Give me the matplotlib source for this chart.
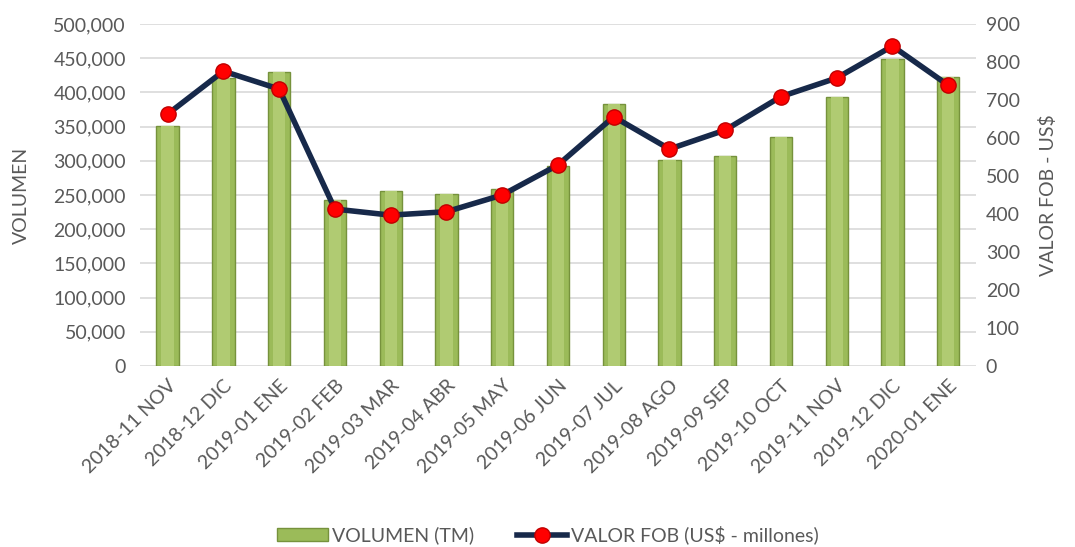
import matplotlib.pyplot as plt
import numpy as np
from matplotlib.ticker import FuncFormatter

meses = ["2018-11 NOV", "2018-12 DIC", "2019-01 ENE", "2019-02 FEB", "2019-03 MAR",
         "2019-04 ABR", "2019-05 MAY", "2019-06 JUN", "2019-07 JUL", "2019-08 AGO",
         "2019-09 SEP", "2019-10 OCT", "2019-11 NOV", "2019-12 DIC", "2020-01 ENE"]
volumen = [351000, 421000, 430000, 243000, 256000, 251000, 259000, 292000,
           383000, 301000, 307000, 335000, 393000, 449000, 423000]
valor_fob = [663, 776, 729, 413, 397, 406, 450, 529, 656, 571, 621, 709, 758, 842, 739]

gris = "#595959"
plt.rcParams['font.family'] = ['Lato', 'DejaVu Sans']
fs = 14

fig = plt.figure(figsize=(10.75, 5.47), dpi=100)
ax = fig.add_axes([0.130, 0.331, 0.778, 0.625])
ax2 = ax.twinx()

x = np.arange(len(meses))
ax.bar(x, volumen, width=0.4, color="#9bbb59", edgecolor="#76923c",
       linewidth=1, zorder=2, label="VOLUMEN (TM)")
# brillo en la cara de cada barra
ax.bar(x, volumen, width=0.22, color="#b0cb72", linewidth=0, zorder=2)

ax2.plot(x, valor_fob, color="#17294a", linewidth=4, marker="o", markersize=11,
         markerfacecolor="#ff0000", markeredgecolor="#c00000", markeredgewidth=1,
         zorder=3, label="VALOR FOB (US$ - millones)")

ax.set_xlim(-0.5, len(meses) - 0.5)
ax.set_ylim(0, 500000)
ax2.set_ylim(0, 900)
ax.set_yticks(np.arange(0, 500001, 50000))
ax2.set_yticks(np.arange(0, 901, 100))
ax.yaxis.set_major_formatter(FuncFormatter(lambda v, p: f"{int(v):,}"))
ax.grid(axis="y", color="#d9d9d9", linewidth=1.2, zorder=0)
ax.set_axisbelow(True)

for a in (ax, ax2):
    for s in a.spines.values():
        s.set_visible(False)
    a.tick_params(length=0, labelsize=fs, labelcolor=gris)
ax.tick_params(axis="y", pad=10)
ax2.tick_params(axis="y", pad=7)

ax.set_xticks(x)
ax.set_xticklabels(meses, rotation=45, ha="right", rotation_mode="anchor")
ax.tick_params(axis="x", pad=8)
ax.set_ylabel("VOLUMEN", fontsize=fs, color=gris, labelpad=17)
ax2.set_ylabel("VALOR FOB - US$", fontsize=fs, color=gris, labelpad=14)

h1, l1 = ax.get_legend_handles_labels()
h2, l2 = ax2.get_legend_handles_labels()
fig.legend(h1 + h2, l1 + l2, loc="center", bbox_to_anchor=(0.51, 0.022), ncol=2,
           frameon=False, fontsize=fs, labelcolor=gris, handlelength=2.6,
           columnspacing=2.2, handletextpad=0.2)

fig.savefig("out.png", dpi=100)
